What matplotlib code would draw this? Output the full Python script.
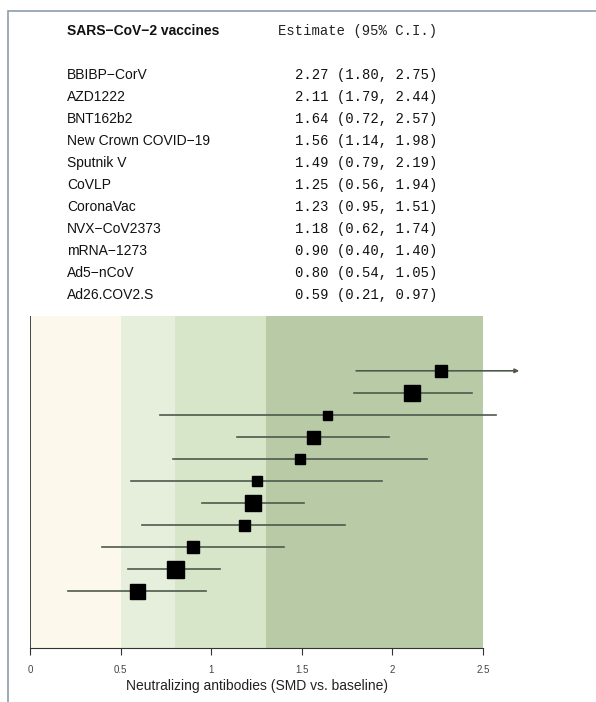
import numpy as np
import matplotlib.pyplot as plt
from matplotlib.patches import Rectangle

# vaccines, point estimates and 95% CI
vaccines = ["BBIBP\u2212CorV", "AZD1222", "BNT162b2", "New Crown COVID\u221219",
            "Sputnik V", "CoVLP", "CoronaVac", "NVX\u2212CoV2373",
            "mRNA\u22121273", "Ad5\u2212nCoV", "Ad26.COV2.S"]
estimate = [2.27, 2.11, 1.64, 1.56, 1.49, 1.25, 1.23, 1.18, 0.90, 0.80, 0.59]
ci_low = [1.80, 1.79, 0.72, 1.14, 0.79, 0.56, 0.95, 0.62, 0.40, 0.54, 0.21]
ci_high = [2.75, 2.44, 2.57, 1.98, 2.19, 1.94, 1.51, 1.74, 1.40, 1.05, 0.97]
# relative study weight (box size)
weight = [12, 16, 9, 13, 10, 10, 16, 11, 12, 17, 15]

# background bands (SMD thresholds)
band_edges = [0, 0.5, 0.8, 1.3, 2.5]
band_colors = ["#fdf8ec", "#e5efdc", "#d7e5c9", "#b9caa7"]
xticks = [0, 0.5, 1, 1.5, 2, 2.5]
xtick_labels = ["0", "0.5", "1", "1.5", "2", "2.5"]
clip_hi = 2.7  # CIs beyond this get an arrow

W, H = 596, 702
fig = plt.figure(figsize=(W / 100, H / 100), dpi=100)
fig.patch.set_facecolor("white")

# outer frame
fig.patches.append(Rectangle((8 / W, -0.1), 1.2, (H - 11) / H + 0.1,
                             transform=fig.transFigure, fill=False,
                             edgecolor="#8c9cab", lw=1.2))

# table on top
sans = ["Liberation Sans", "DejaVu Sans"]
mono = ["Liberation Mono", "DejaVu Sans Mono"]
fig.text(67 / W, 1 - 31 / H, "SARS\u2212CoV\u22122 vaccines", family=sans,
         fontsize=10, fontweight="bold", va="center", ha="left", color="#111111")
fig.text(437 / W, 1 - 31 / H, "Estimate (95% C.I.)", family=mono,
         fontsize=10, va="center", ha="right", color="#222222")
for i, name in enumerate(vaccines):
    y = 1 - (75 + 22 * i) / H
    fig.text(67 / W, y, name, family=sans, fontsize=10, va="center",
             ha="left", color="#111111")
    s = f"{estimate[i]:.2f} ({ci_low[i]:.2f}, {ci_high[i]:.2f})"
    fig.text(437 / W, y, s, family=mono, fontsize=10, va="center",
             ha="right", color="#111111")

# forest plot
ax = fig.add_axes([30 / W, 1 - 648 / H, (483 - 30) / W, (648 - 316) / H])
ax.set_xlim(0, 2.5)
ax.set_ylim(12.59, -2.49)
for k in range(4):
    ax.axvspan(band_edges[k], band_edges[k + 1], color=band_colors[k], lw=0, zorder=0)

rows = np.arange(len(vaccines))
for i in rows:
    if ci_high[i] > clip_hi:
        ax.annotate("", xy=(clip_hi, i), xytext=(ci_low[i], i),
                    arrowprops=dict(arrowstyle="-|>", color="#4f5a4c", lw=1.2,
                                    mutation_scale=6, shrinkA=0, shrinkB=0),
                    annotation_clip=False)
    else:
        ax.plot([ci_low[i], ci_high[i]], [i, i], color="#4f5a4c", lw=1.2,
                clip_on=False, zorder=2)
    ax.plot(estimate[i], i, marker="s", color="black", markersize=weight[i] * 0.72,
            ls="none", zorder=3)

for side in ["top", "right"]:
    ax.spines[side].set_visible(False)
ax.spines["left"].set_color("#444444")
ax.spines["left"].set_linewidth(0.7)
ax.spines["bottom"].set_color("#333333")
ax.spines["bottom"].set_linewidth(0.8)
ax.set_yticks([])
ax.set_xticks(xticks)
ax.set_xticklabels(xtick_labels, fontsize=7, color="#444444", family=sans)
ax.tick_params(axis="x", direction="out", length=5, width=0.8, color="#333333", pad=7)
ax.set_xlabel("Neutralizing antibodies (SMD vs. baseline)", fontsize=10,
              family=sans, color="#222222", labelpad=3)

fig.savefig("out.png", dpi=100)
